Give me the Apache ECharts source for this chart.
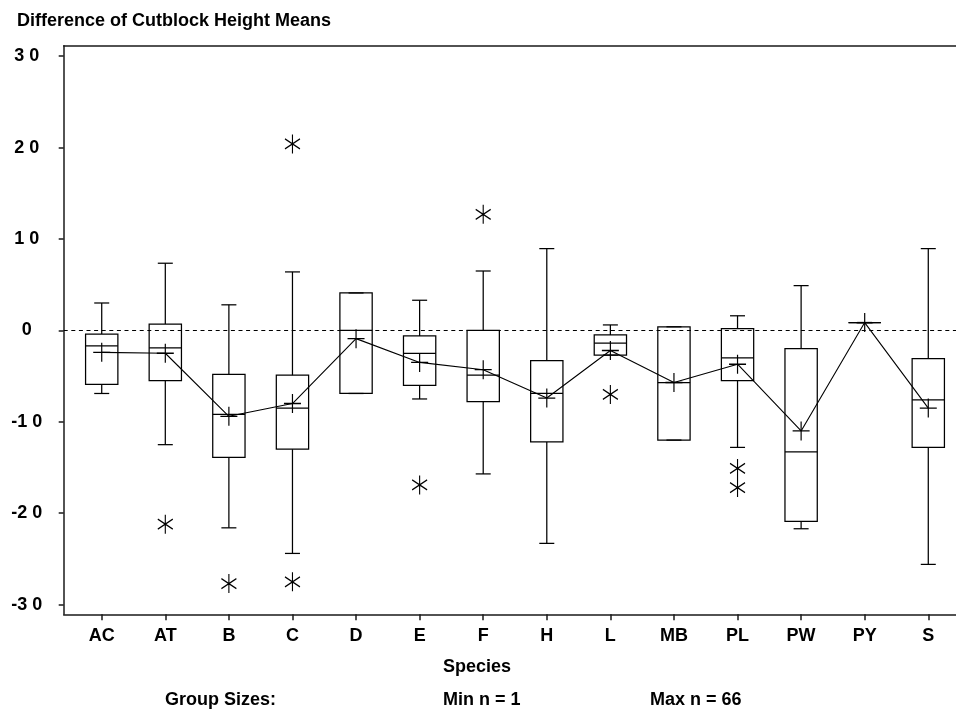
<!DOCTYPE html>
<html>
<head>
<meta charset="utf-8">
<script src="https://cdn.jsdelivr.net/npm/echarts@6/dist/echarts.min.js"></script>
<style>
html,body{margin:0;padding:0;background:#fff;}
#chart{width:956px;height:719px;}
</style>
</head>
<body>
<div id="chart"></div>
<script>
// ---- data ----
const categories = ['AC','AT','B','C','D','E','F','H','L','MB','PL','PW','PY','S'];
const whiskerLow  = [-6.9, -12.5, -21.6, -24.4, -6.9, -7.5, -15.7, -23.3, -2.7, -12.0, -12.8, -21.7, 0.86, -25.6];
const q1          = [-5.9,  -5.5, -13.9, -13.0, -6.9, -6.0,  -7.8, -12.2, -2.7, -12.0,  -5.5, -20.9, 0.86, -12.8];
const medians     = [-1.7,  -1.9,  -9.2,  -8.5,  0.0, -2.5,  -4.9,  -6.9, -1.4,  -5.7,  -3.0, -13.3, 0.86,  -7.6];
const q3          = [-0.4,   0.7,  -4.8,  -4.9,  4.1, -0.6,   0.0,  -3.3, -0.5,   0.4,   0.2,  -2.0, 0.86,  -3.1];
const whiskerHigh = [ 3.0,  7.35,   2.8,   6.4,  4.1,  3.3,   6.5,  8.95,  0.6,   0.4,   1.6,   4.9, 0.86,  8.95];
const means       = [-2.4,  -2.5,  -9.4,  -8.0, -0.9, -3.5,  -4.3,  -7.4, -2.2,  -5.7,  -3.7, -11.0, 0.86,  -8.5];
const outlierCat  = ['AT','B','C','C','E','F','L','PL','PL'];
const outlierVal  = [-21.2, -27.7, 20.4, -27.5, -16.9, 12.7, -7.0, -15.1, -17.2];
const yTicks = [-30, -20, -10, 0, 10, 20, 30];
const titleText = 'Difference of Cutblock Height Means';
const xName = 'Species';
const footTexts = ['Group Sizes:', 'Min n = 1', 'Max n = 66'];

// ---- build ----
const FONT = "'Liberation Sans', Arial, Helvetica, sans-serif";
const catIdx = categories.map((c, i) => i);
const boxData = categories.map((c, i) => [i, whiskerLow[i], q1[i], medians[i], q3[i], whiskerHigh[i]]);
const meanData = categories.map((c, i) => [i, means[i]]);
const outlierData = outlierCat.map((c, k) => [categories.indexOf(c), outlierVal[k]]);

const XMIN = -0.598, XMAX = 13.436;
const STROKE = '#000';
const LW = 1.25;

function renderBox(params, api) {
  const x = api.value(0);
  const lo = api.coord([x, api.value(1)]);
  const b1 = api.coord([x, api.value(2)]);
  const md = api.coord([x, api.value(3)]);
  const b3 = api.coord([x, api.value(4)]);
  const hi = api.coord([x, api.value(5)]);
  const unit = api.size([1, 0])[0];
  const hw = unit * 0.254;
  const cw = unit * 0.118;
  const cx = lo[0];
  const ls = {stroke: STROKE, lineWidth: LW, fill: null};
  const children = [
    {type: 'line', shape: {x1: cx, y1: hi[1], x2: cx, y2: b3[1]}, style: ls},
    {type: 'line', shape: {x1: cx, y1: b1[1], x2: cx, y2: lo[1]}, style: ls},
    {type: 'line', shape: {x1: cx - cw, y1: hi[1], x2: cx + cw, y2: hi[1]}, style: ls},
    {type: 'line', shape: {x1: cx - cw, y1: lo[1], x2: cx + cw, y2: lo[1]}, style: ls},
    {type: 'rect', shape: {x: cx - hw, y: b3[1], width: hw * 2, height: b1[1] - b3[1]},
      style: {stroke: STROKE, lineWidth: LW, fill: 'rgba(0,0,0,0)'}},
    {type: 'line', shape: {x1: cx - hw, y1: md[1], x2: cx + hw, y2: md[1]}, style: ls}
  ];
  return {type: 'group', children: children};
}

function spaced(v) {
  const s = String(Math.abs(v)).split('').join(' ');
  return (v < 0 ? '-' : '') + s;
}

const axisLineStyle = {color: '#1a1a1a', width: 1.5};
const labelFont = {fontFamily: FONT, fontWeight: 'bold', fontSize: 18, color: '#000'};

const option = {
  animation: false,
  backgroundColor: '#fff',
  grid: {left: 63.7, right: 0, top: 45.7, bottom: 104.7, containLabel: false, outerBoundsMode: 'none'},
  xAxis: [
    {
      type: 'value', min: XMIN, max: XMAX, position: 'bottom',
      axisLine: {show: true, onZero: false, lineStyle: axisLineStyle},
      axisTick: {show: true, length: 6, customValues: catIdx, lineStyle: axisLineStyle},
      axisLabel: Object.assign({show: true, customValues: catIdx, margin: 13,
        formatter: v => categories[Math.round(v)]}, labelFont),
      splitLine: {show: false}
    },
    {
      type: 'value', min: XMIN, max: XMAX, position: 'top',
      axisLine: {show: true, onZero: false, lineStyle: axisLineStyle},
      axisTick: {show: false}, axisLabel: {show: false}, splitLine: {show: false}
    }
  ],
  yAxis: {
    type: 'value', min: -31.06, max: 31.15,
    axisLine: {show: true, onZero: false, lineStyle: axisLineStyle},
    axisTick: {show: true, length: 5, customValues: yTicks, lineStyle: axisLineStyle},
    axisLabel: Object.assign({show: true, customValues: yTicks, margin: 37, align: 'center',
      padding: [0, 0, 6, 0], formatter: v => spaced(v)}, labelFont),
    splitLine: {show: false}
  },
  series: [
    {
      type: 'custom', renderItem: renderBox, data: boxData,
      encode: {x: 0, y: [1, 2, 3, 4, 5]}, z: 2, silent: true
    },
    {
      type: 'line', data: meanData, z: 4,
      symbol: 'path://M0,9.5L17,9.5M8.5,0L8.5,19', symbolSize: [17, 19], symbolKeepAspect: false,
      showAllSymbol: true,
      itemStyle: {color: 'rgba(0,0,0,0)', borderColor: '#000', borderWidth: LW},
      lineStyle: {color: '#000', width: 1.1},
      markLine: {
        silent: true, symbol: ['none', 'none'], label: {show: false},
        lineStyle: {color: '#000', width: 1.1, type: [4, 3.6]},
        data: [{yAxis: 0}]
      }
    },
    {
      type: 'scatter', data: outlierData, z: 4,
      symbol: 'path://M7.5,0L7.5,19M0,4.5L15,14.5M0,14.5L15,4.5', symbolSize: [15, 19],
      itemStyle: {color: 'rgba(0,0,0,0)', borderColor: '#000', borderWidth: LW, opacity: 1}
    }
  ],
  graphic: [
    {type: 'text', x: 17, y: 21, style: {text: titleText, font: "bold 18px " + FONT, fill: '#000', verticalAlign: 'middle', align: 'left'}},
    {type: 'text', x: 443, y: 667, style: {text: xName, font: "bold 18px " + FONT, fill: '#000', verticalAlign: 'middle', align: 'left'}},
    {type: 'text', x: 165, y: 700, style: {text: footTexts[0], font: "bold 18px " + FONT, fill: '#000', verticalAlign: 'middle', align: 'left'}},
    {type: 'text', x: 443, y: 700, style: {text: footTexts[1], font: "bold 18px " + FONT, fill: '#000', verticalAlign: 'middle', align: 'left'}},
    {type: 'text', x: 650, y: 700, style: {text: footTexts[2], font: "bold 18px " + FONT, fill: '#000', verticalAlign: 'middle', align: 'left'}}
  ]
};

const chart = echarts.init(document.getElementById('chart'), null, {renderer: 'canvas'});
chart.setOption(option);
</script>
</body>
</html>
